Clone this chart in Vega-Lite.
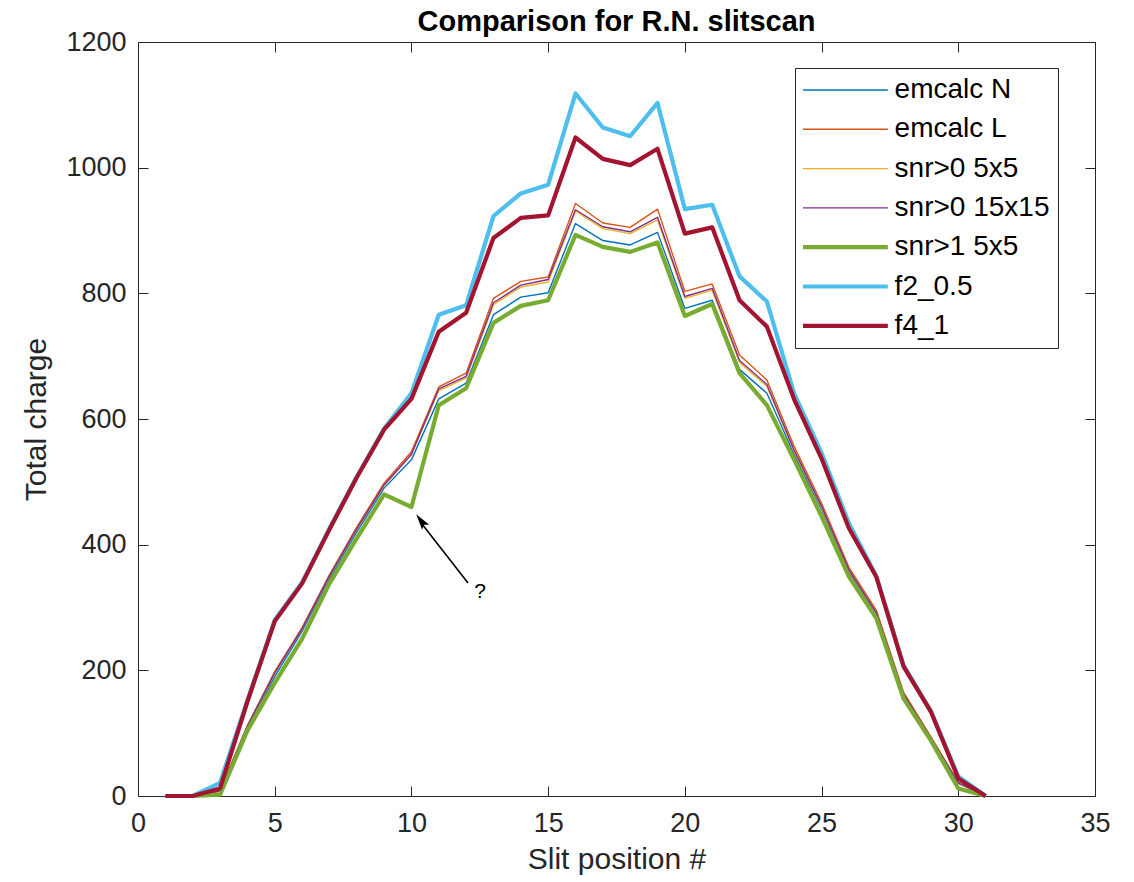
{
  "$schema": "https://vega.github.io/schema/vega-lite/v6.json",
  "width": 957,
  "height": 754,
  "autosize": {"type": "none"},
  "padding": {"left": 138, "top": 42, "right": 39, "bottom": 86},
  "background": "white",
  "title": {"text": "Comparison for R.N. slitscan", "font": "Liberation Sans", "fontSize": 29, "fontWeight": "bold", "color": "black", "offset": -9},
  "config": {
    "view": {"stroke": null},
    "font": "Liberation Sans",
    "axis": {"grid": false, "domainColor": "#262626", "domainWidth": 1, "tickColor": "#262626", "tickWidth": 1, "tickSize": -10, "labelFont": "Liberation Sans", "labelFontSize": 27, "labelColor": "#262626", "titleFont": "Liberation Sans", "titleFontSize": 30, "titleFontWeight": "normal", "titleColor": "#262626", "labelFlush": false, "labelOverlap": false, "format": "d"},
    "legend": {
      "orient": "none", "legendX": 657, "legendY": 26, "title": null,
      "labelFont": "Liberation Sans", "labelFontSize": 28, "labelColor": "black",
      "symbolType": "M-1,0H7", "symbolSize": 450, "symbolOffset": -3.4, "labelOffset": 67,
      "rowPadding": 11.3, "padding": 8, "strokeColor": "#262626", "fillColor": "white", "symbolFillColor": "transparent", "labelLimit": 400
    }
  },
  "datasets": {
    "series": [
      {"k":"emcalc N","x":1,"v":0},{"k":"emcalc N","x":2,"v":0},{"k":"emcalc N","x":3,"v":8},{"k":"emcalc N","x":4,"v":108},{"k":"emcalc N","x":5,"v":190},{"k":"emcalc N","x":6,"v":262},{"k":"emcalc N","x":7,"v":346},{"k":"emcalc N","x":8,"v":420},{"k":"emcalc N","x":9,"v":490},{"k":"emcalc N","x":10,"v":535},{"k":"emcalc N","x":11,"v":632},{"k":"emcalc N","x":12,"v":657},{"k":"emcalc N","x":13,"v":766},{"k":"emcalc N","x":14,"v":794},{"k":"emcalc N","x":15,"v":801},{"k":"emcalc N","x":16,"v":911},{"k":"emcalc N","x":17,"v":884},{"k":"emcalc N","x":18,"v":877},{"k":"emcalc N","x":19,"v":897},{"k":"emcalc N","x":20,"v":776},{"k":"emcalc N","x":21,"v":789},{"k":"emcalc N","x":22,"v":679},{"k":"emcalc N","x":23,"v":641},{"k":"emcalc N","x":24,"v":543},{"k":"emcalc N","x":25,"v":456},{"k":"emcalc N","x":26,"v":357},{"k":"emcalc N","x":27,"v":289},{"k":"emcalc N","x":28,"v":160},{"k":"emcalc N","x":29,"v":90},{"k":"emcalc N","x":30,"v":20},{"k":"emcalc N","x":31,"v":0},
      {"k":"emcalc L","x":1,"v":0},{"k":"emcalc L","x":2,"v":0},{"k":"emcalc L","x":3,"v":9},{"k":"emcalc L","x":4,"v":112},{"k":"emcalc L","x":5,"v":198},{"k":"emcalc L","x":6,"v":268},{"k":"emcalc L","x":7,"v":352},{"k":"emcalc L","x":8,"v":428},{"k":"emcalc L","x":9,"v":498},{"k":"emcalc L","x":10,"v":548},{"k":"emcalc L","x":11,"v":651},{"k":"emcalc L","x":12,"v":673},{"k":"emcalc L","x":13,"v":792},{"k":"emcalc L","x":14,"v":819},{"k":"emcalc L","x":15,"v":826},{"k":"emcalc L","x":16,"v":943},{"k":"emcalc L","x":17,"v":912},{"k":"emcalc L","x":18,"v":905},{"k":"emcalc L","x":19,"v":934},{"k":"emcalc L","x":20,"v":803},{"k":"emcalc L","x":21,"v":815},{"k":"emcalc L","x":22,"v":702},{"k":"emcalc L","x":23,"v":662},{"k":"emcalc L","x":24,"v":556},{"k":"emcalc L","x":25,"v":466},{"k":"emcalc L","x":26,"v":364},{"k":"emcalc L","x":27,"v":296},{"k":"emcalc L","x":28,"v":165},{"k":"emcalc L","x":29,"v":94},{"k":"emcalc L","x":30,"v":22},{"k":"emcalc L","x":31,"v":0},
      {"k":"snr>0 5x5","x":1,"v":0},{"k":"snr>0 5x5","x":2,"v":0},{"k":"snr>0 5x5","x":3,"v":7},{"k":"snr>0 5x5","x":4,"v":110},{"k":"snr>0 5x5","x":5,"v":195},{"k":"snr>0 5x5","x":6,"v":265},{"k":"snr>0 5x5","x":7,"v":349},{"k":"snr>0 5x5","x":8,"v":424},{"k":"snr>0 5x5","x":9,"v":494},{"k":"snr>0 5x5","x":10,"v":543},{"k":"snr>0 5x5","x":11,"v":645},{"k":"snr>0 5x5","x":12,"v":665},{"k":"snr>0 5x5","x":13,"v":782},{"k":"snr>0 5x5","x":14,"v":810},{"k":"snr>0 5x5","x":15,"v":818},{"k":"snr>0 5x5","x":16,"v":931},{"k":"snr>0 5x5","x":17,"v":903},{"k":"snr>0 5x5","x":18,"v":895},{"k":"snr>0 5x5","x":19,"v":917},{"k":"snr>0 5x5","x":20,"v":792},{"k":"snr>0 5x5","x":21,"v":805},{"k":"snr>0 5x5","x":22,"v":690},{"k":"snr>0 5x5","x":23,"v":652},{"k":"snr>0 5x5","x":24,"v":548},{"k":"snr>0 5x5","x":25,"v":459},{"k":"snr>0 5x5","x":26,"v":359},{"k":"snr>0 5x5","x":27,"v":291},{"k":"snr>0 5x5","x":28,"v":161},{"k":"snr>0 5x5","x":29,"v":91},{"k":"snr>0 5x5","x":30,"v":20},{"k":"snr>0 5x5","x":31,"v":0},
      {"k":"snr>0 15x15","x":1,"v":0},{"k":"snr>0 15x15","x":2,"v":0},{"k":"snr>0 15x15","x":3,"v":8},{"k":"snr>0 15x15","x":4,"v":111},{"k":"snr>0 15x15","x":5,"v":196},{"k":"snr>0 15x15","x":6,"v":266},{"k":"snr>0 15x15","x":7,"v":350},{"k":"snr>0 15x15","x":8,"v":425},{"k":"snr>0 15x15","x":9,"v":495},{"k":"snr>0 15x15","x":10,"v":544},{"k":"snr>0 15x15","x":11,"v":648},{"k":"snr>0 15x15","x":12,"v":668},{"k":"snr>0 15x15","x":13,"v":785},{"k":"snr>0 15x15","x":14,"v":813},{"k":"snr>0 15x15","x":15,"v":822},{"k":"snr>0 15x15","x":16,"v":933},{"k":"snr>0 15x15","x":17,"v":906},{"k":"snr>0 15x15","x":18,"v":898},{"k":"snr>0 15x15","x":19,"v":921},{"k":"snr>0 15x15","x":20,"v":795},{"k":"snr>0 15x15","x":21,"v":808},{"k":"snr>0 15x15","x":22,"v":693},{"k":"snr>0 15x15","x":23,"v":655},{"k":"snr>0 15x15","x":24,"v":550},{"k":"snr>0 15x15","x":25,"v":461},{"k":"snr>0 15x15","x":26,"v":360},{"k":"snr>0 15x15","x":27,"v":292},{"k":"snr>0 15x15","x":28,"v":162},{"k":"snr>0 15x15","x":29,"v":92},{"k":"snr>0 15x15","x":30,"v":21},{"k":"snr>0 15x15","x":31,"v":0},
      {"k":"snr>1 5x5","x":1,"v":0},{"k":"snr>1 5x5","x":2,"v":0},{"k":"snr>1 5x5","x":3,"v":2},{"k":"snr>1 5x5","x":4,"v":104},{"k":"snr>1 5x5","x":5,"v":180},{"k":"snr>1 5x5","x":6,"v":250},{"k":"snr>1 5x5","x":7,"v":338},{"k":"snr>1 5x5","x":8,"v":410},{"k":"snr>1 5x5","x":9,"v":480},{"k":"snr>1 5x5","x":10,"v":460},{"k":"snr>1 5x5","x":11,"v":622},{"k":"snr>1 5x5","x":12,"v":649},{"k":"snr>1 5x5","x":13,"v":753},{"k":"snr>1 5x5","x":14,"v":780},{"k":"snr>1 5x5","x":15,"v":789},{"k":"snr>1 5x5","x":16,"v":893},{"k":"snr>1 5x5","x":17,"v":874},{"k":"snr>1 5x5","x":18,"v":866},{"k":"snr>1 5x5","x":19,"v":881},{"k":"snr>1 5x5","x":20,"v":764},{"k":"snr>1 5x5","x":21,"v":783},{"k":"snr>1 5x5","x":22,"v":673},{"k":"snr>1 5x5","x":23,"v":622},{"k":"snr>1 5x5","x":24,"v":535},{"k":"snr>1 5x5","x":25,"v":445},{"k":"snr>1 5x5","x":26,"v":349},{"k":"snr>1 5x5","x":27,"v":283},{"k":"snr>1 5x5","x":28,"v":155},{"k":"snr>1 5x5","x":29,"v":88},{"k":"snr>1 5x5","x":30,"v":12},{"k":"snr>1 5x5","x":31,"v":0},
      {"k":"f2_0.5","x":1,"v":0},{"k":"f2_0.5","x":2,"v":0},{"k":"f2_0.5","x":3,"v":21},{"k":"f2_0.5","x":4,"v":152},{"k":"f2_0.5","x":5,"v":280},{"k":"f2_0.5","x":6,"v":340},{"k":"f2_0.5","x":7,"v":426},{"k":"f2_0.5","x":8,"v":508},{"k":"f2_0.5","x":9,"v":585},{"k":"f2_0.5","x":10,"v":641},{"k":"f2_0.5","x":11,"v":766},{"k":"f2_0.5","x":12,"v":781},{"k":"f2_0.5","x":13,"v":923},{"k":"f2_0.5","x":14,"v":959},{"k":"f2_0.5","x":15,"v":973},{"k":"f2_0.5","x":16,"v":1118},{"k":"f2_0.5","x":17,"v":1064},{"k":"f2_0.5","x":18,"v":1050},{"k":"f2_0.5","x":19,"v":1103},{"k":"f2_0.5","x":20,"v":934},{"k":"f2_0.5","x":21,"v":941},{"k":"f2_0.5","x":22,"v":827},{"k":"f2_0.5","x":23,"v":787},{"k":"f2_0.5","x":24,"v":640},{"k":"f2_0.5","x":25,"v":546},{"k":"f2_0.5","x":26,"v":434},{"k":"f2_0.5","x":27,"v":350},{"k":"f2_0.5","x":28,"v":208},{"k":"f2_0.5","x":29,"v":135},{"k":"f2_0.5","x":30,"v":31},{"k":"f2_0.5","x":31,"v":0},
      {"k":"f4_1","x":1,"v":0},{"k":"f4_1","x":2,"v":0},{"k":"f4_1","x":3,"v":12},{"k":"f4_1","x":4,"v":150},{"k":"f4_1","x":5,"v":278},{"k":"f4_1","x":6,"v":338},{"k":"f4_1","x":7,"v":424},{"k":"f4_1","x":8,"v":507},{"k":"f4_1","x":9,"v":583},{"k":"f4_1","x":10,"v":632},{"k":"f4_1","x":11,"v":739},{"k":"f4_1","x":12,"v":769},{"k":"f4_1","x":13,"v":888},{"k":"f4_1","x":14,"v":920},{"k":"f4_1","x":15,"v":924},{"k":"f4_1","x":16,"v":1048},{"k":"f4_1","x":17,"v":1014},{"k":"f4_1","x":18,"v":1004},{"k":"f4_1","x":19,"v":1030},{"k":"f4_1","x":20,"v":895},{"k":"f4_1","x":21,"v":905},{"k":"f4_1","x":22,"v":789},{"k":"f4_1","x":23,"v":747},{"k":"f4_1","x":24,"v":631},{"k":"f4_1","x":25,"v":537},{"k":"f4_1","x":26,"v":426},{"k":"f4_1","x":27,"v":349},{"k":"f4_1","x":28,"v":206},{"k":"f4_1","x":29,"v":134},{"k":"f4_1","x":30,"v":28},{"k":"f4_1","x":31,"v":0}
    ],
    "arrow": [{"x1": 12.07, "v1": 339, "x2": 10.33, "v2": 436}],
    "head": [{"x": 10.4, "v": 435}],
    "note": [{"x": 12.51, "v": 325, "t": "?"}]
  },
  "layer": [
    {
      "data": {"name": "series"},
      "mark": {"type": "line", "strokeJoin": "round", "strokeCap": "butt"},
      "encoding": {
        "x": {"field": "x", "type": "quantitative", "scale": {"domain": [0, 35], "nice": false, "zero": false},
              "axis": {"orient": "bottom", "values": [0, 5, 10, 15, 20, 25, 30, 35], "title": "Slit position #", "labelPadding": 24, "titlePadding": 8}},
        "y": {"field": "v", "type": "quantitative", "scale": {"domain": [0, 1200], "nice": false},
              "axis": {"orient": "left", "values": [0, 200, 400, 600, 800, 1000, 1200], "title": "Total charge", "labelPadding": 22, "titlePadding": 14}},
        "color": {"field": "k", "type": "nominal",
                  "scale": {"domain": ["emcalc N", "emcalc L", "snr>0 5x5", "snr>0 15x15", "snr>1 5x5", "f2_0.5", "f4_1"],
                            "range": ["#0072BD", "#D95319", "#EDB120", "#7E2F8E", "#77AC30", "#4DBEEE", "#A2142F"]}},
        "strokeWidth": {"field": "k", "type": "ordinal",
                  "scale": {"type": "ordinal", "domain": ["emcalc N", "emcalc L", "snr>0 5x5", "snr>0 15x15", "snr>1 5x5", "f2_0.5", "f4_1"],
                            "range": [1.4, 1.4, 1.4, 1.4, 4.2, 4.2, 4.2]}}
      }
    },
    {
      "data": {"name": "arrow"},
      "mark": {"type": "rule", "color": "black", "strokeWidth": 1.6},
      "encoding": {
        "x": {"field": "x1", "type": "quantitative", "scale": {"domain": [0, 35], "nice": false, "zero": false}, "axis": null},
        "x2": {"field": "x2"},
        "y": {"field": "v1", "type": "quantitative", "scale": {"domain": [0, 1200], "nice": false}, "axis": null},
        "y2": {"field": "v2"}
      }
    },
    {
      "data": {"name": "head"},
      "mark": {"type": "point", "shape": "M0,-1.3L0.55,0.7L0,0.3L-0.55,0.7Z", "filled": true, "color": "black", "opacity": 1, "size": 260, "angle": 324},
      "encoding": {
        "x": {"field": "x", "type": "quantitative", "scale": {"domain": [0, 35], "nice": false, "zero": false}, "axis": null},
        "y": {"field": "v", "type": "quantitative", "scale": {"domain": [0, 1200], "nice": false}, "axis": null}
      }
    },
    {
      "data": {"name": "note"},
      "mark": {"type": "text", "font": "Liberation Sans", "fontSize": 21, "color": "black", "align": "center", "baseline": "middle"},
      "encoding": {
        "x": {"field": "x", "type": "quantitative", "scale": {"domain": [0, 35], "nice": false, "zero": false},
              "axis": {"orient": "top", "values": [0, 5, 10, 15, 20, 25, 30, 35], "labels": false, "title": null}},
        "y": {"field": "v", "type": "quantitative", "scale": {"domain": [0, 1200], "nice": false},
              "axis": {"orient": "right", "values": [0, 200, 400, 600, 800, 1000, 1200], "labels": false, "title": null}},
        "text": {"field": "t"}
      }
    }
  ],
  "resolve": {"axis": {"x": "independent", "y": "independent"}}
}
